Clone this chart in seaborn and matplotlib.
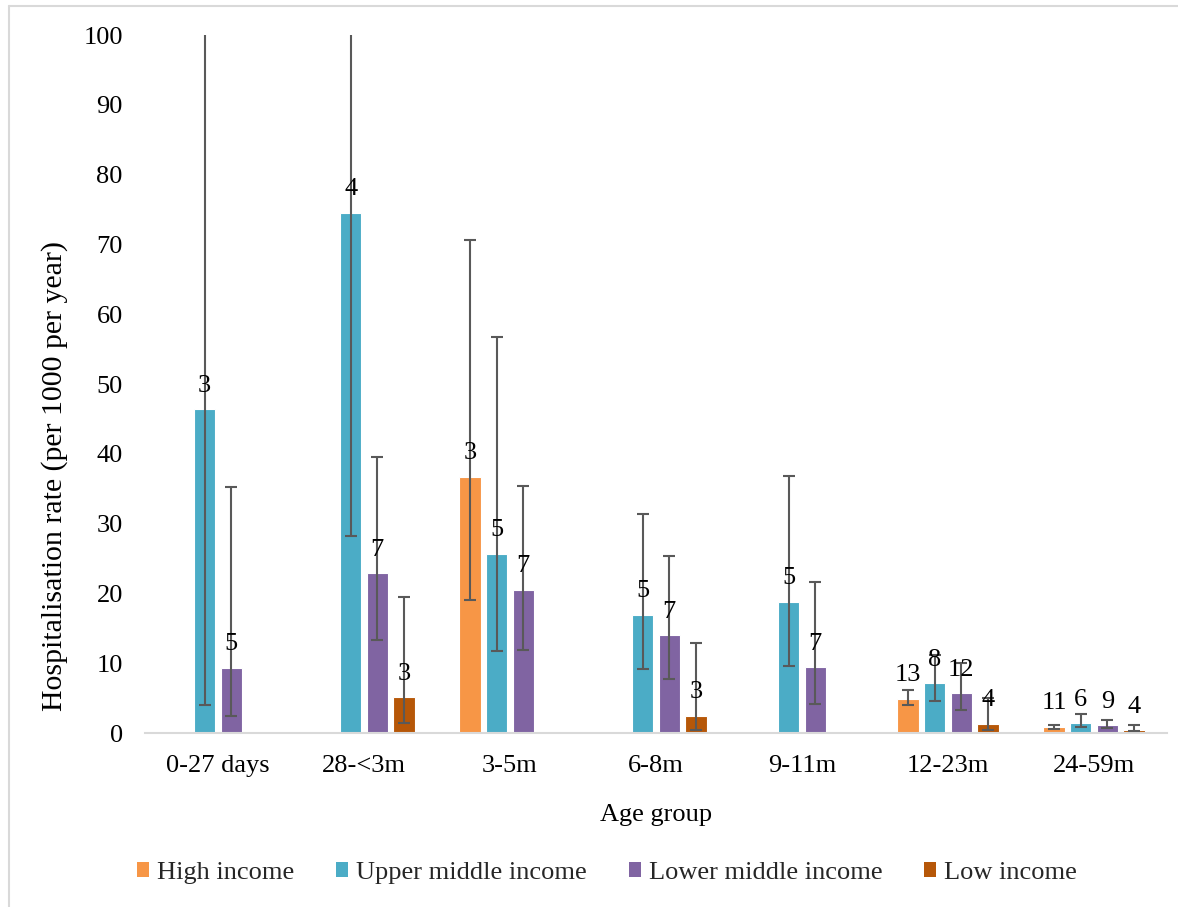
import numpy as np
import pandas as pd
import seaborn as sns
import matplotlib
matplotlib.use("Agg")
import matplotlib.pyplot as plt
from matplotlib.lines import Line2D
from matplotlib.patches import Patch

# Age groups and income strata
age_groups = ["0-27 days", "28-<3m", "3-5m", "6-8m", "9-11m", "12-23m", "24-59m"]
income_groups = ["High income", "Upper middle income", "Lower middle income", "Low income"]
palette = ["#F79646", "#4BACC6", "#8064A2", "#B65708"]

# Hospitalisation rate per 1000 per year (NaN = no estimate)
high_rate = [np.nan, np.nan, 36.7, np.nan, np.nan, 4.9, 0.85]
upper_mid_rate = [46.4, 74.5, 25.7, 16.9, 18.8, 7.1, 1.4]
lower_mid_rate = [9.3, 22.9, 20.5, 14.0, 9.4, 5.7, 1.1]
low_rate = [np.nan, 5.1, np.nan, 2.5, np.nan, 1.3, 0.4]

# 95% CI lower bounds
high_lo = [np.nan, np.nan, 19.1, np.nan, np.nan, 4.0, 0.6]
upper_mid_lo = [4.0, 28.2, 11.7, 9.2, 9.6, 4.6, 0.8]
lower_mid_lo = [2.4, 13.3, 11.9, 7.8, 4.1, 3.3, 0.7]
low_lo = [np.nan, 1.5, np.nan, 0.5, np.nan, 0.4, 0.3]

# 95% CI upper bounds
high_hi = [np.nan, np.nan, 70.7, np.nan, np.nan, 6.1, 1.2]
upper_mid_hi = [140.0, 130.0, 56.7, 31.4, 36.8, 11.2, 2.7]
lower_mid_hi = [35.3, 39.5, 35.4, 25.4, 21.7, 10.0, 1.9]
low_hi = [np.nan, 19.5, np.nan, 12.9, np.nan, 5.0, 1.2]

# Number of studies
high_n = [np.nan, np.nan, 3, np.nan, np.nan, 13, 11]
upper_mid_n = [3, 4, 5, 5, 5, 8, 6]
lower_mid_n = [5, 7, 7, 7, 7, 12, 9]
low_n = [np.nan, 3, np.nan, 3, np.nan, 4, 4]

rates = [high_rate, upper_mid_rate, lower_mid_rate, low_rate]
los = [high_lo, upper_mid_lo, lower_mid_lo, low_lo]
his = [high_hi, upper_mid_hi, lower_mid_hi, low_hi]
ns = [high_n, upper_mid_n, lower_mid_n, low_n]

rows = []
for inc, r, lo, hi, n in zip(income_groups, rates, los, his, ns):
    for ag, rv, lv, hv, nv in zip(age_groups, r, lo, hi, n):
        if not np.isnan(rv):
            rows.append(dict(age=ag, income=inc, rate=rv, lo=lv, hi=hv, n=int(nv)))
df = pd.DataFrame(rows)

sns.set_style("white")
plt.rcParams["font.family"] = ["Liberation Serif", "DejaVu Serif"]
fs = 19

fig = plt.figure(figsize=(11.78, 9.07), dpi=100)
ax = fig.add_axes([145 / 1178, 1 - 733 / 907, (1167 - 145) / 1178, (733 - 35) / 907])

sns.barplot(data=df, x="age", y="rate", hue="income", order=age_groups,
            hue_order=income_groups, palette=palette, saturation=1,
            width=0.73, gap=0.2, edgecolor="white", linewidth=0.8,
            errorbar=None, legend=False, ax=ax)

# Confidence intervals and study counts on each bar
for inc, cont in zip(income_groups, ax.containers):
    sub = df[df["income"] == inc].set_index("age")
    for patch in cont.patches:
        xc = patch.get_x() + patch.get_width() / 2
        ag = age_groups[int(round(xc))]
        row = sub.loc[ag]
        ax.errorbar(xc, row["rate"],
                    yerr=[[row["rate"] - row["lo"]], [row["hi"] - row["rate"]]],
                    fmt="none", ecolor="#595959", elinewidth=1.5, capsize=4.3,
                    capthick=1.5, zorder=3)
        ax.annotate(str(row["n"]), (xc, row["rate"]), xytext=(0, 17),
                    textcoords="offset points", ha="center", va="center",
                    fontsize=fs, color="black", zorder=4)

ax.set_ylim(0, 100)
ax.set_xlim(-0.5, len(age_groups) - 0.5)
ax.set_yticks(range(0, 101, 10))
ax.tick_params(axis="both", length=0, labelsize=fs, colors="black")
ax.tick_params(axis="y", pad=16)
ax.tick_params(axis="x", pad=16)
for s in ["top", "right", "left"]:
    ax.spines[s].set_visible(False)
ax.spines["bottom"].set_color("#D9D9D9")
ax.spines["bottom"].set_linewidth(1.5)

ax.set_xlabel("Age group", fontsize=fs, color="black")
ax.xaxis.set_label_coords(0.5, -(804 - 733) / 698)
ax.set_ylabel("Hospitalisation rate (per 1000 per year)", fontsize=21.5, color="black")
ax.yaxis.set_label_coords(-(145 - 68) / 1022, (733 - 476) / 698)

handles = [Patch(facecolor=c, edgecolor="none") for c in palette]
fig.legend(handles, income_groups, loc="center", ncol=4,
           bbox_to_anchor=(607 / 1178, 1 - 873 / 907), frameon=False,
           fontsize=fs, handlelength=0.45, handleheight=0.5,
           handletextpad=0.3, columnspacing=1.6)

# Light chart-area border on the left and top
fig.add_artist(Line2D([9 / 1178, 9 / 1178], [0, 1 - 6 / 907],
                      transform=fig.transFigure, color="#D9D9D9", lw=1.5))
fig.add_artist(Line2D([9 / 1178, 1], [1 - 6 / 907, 1 - 6 / 907],
                      transform=fig.transFigure, color="#D9D9D9", lw=1.5))

fig.savefig("out.png", dpi=100, facecolor="white")
